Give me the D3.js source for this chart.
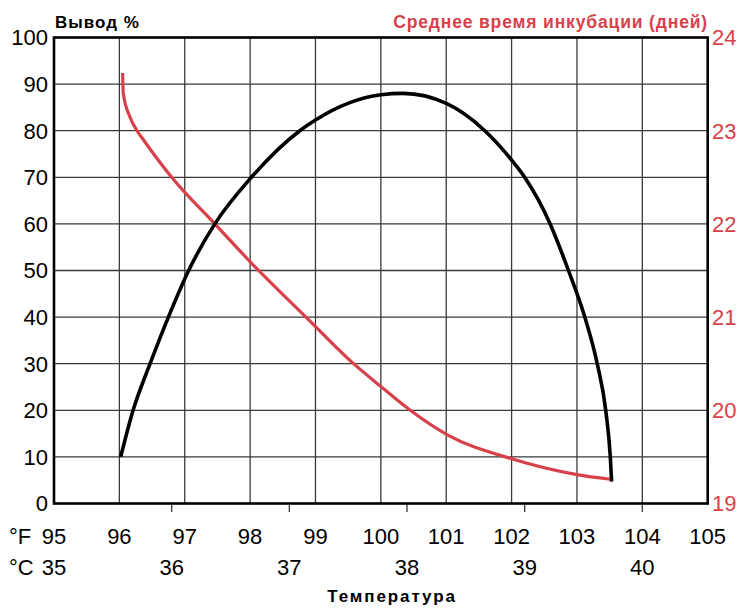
<html>
	<head>
		<meta charset="utf-8">
		<title>Вывод и время инкубации</title>
		<script src="https://cdn.jsdelivr.net/npm/d3@7/dist/d3.min.js" charset="utf-8"></script>
		<style>
			body { margin: 0; background: #fff; }
			text { font-family: "Liberation Sans", Arial, sans-serif; }
		</style>
	</head>
<body>
	<svg id="chart"></svg>
	<script>
		// tick labels
		var fahrenheitTicks = [95, 96, 97, 98, 99, 100, 101, 102, 103, 104, 105];
		var celsiusTicks = [35, 36, 37, 38, 39, 40];
		var hatchTicks = [0, 10, 20, 30, 40, 50, 60, 70, 80, 90, 100];
		var dayTicks = [19, 20, 21, 22, 23, 24];

		// hatch rate (%) against temperature (°F), black curve
		var hatchF =   [96.02, 96.21, 96.47, 96.75, 97.06, 97.46, 98.02, 98.76, 99.0, 100.0, 100.34, 101.01, 101.59, 102.0, 102.2, 102.59, 102.87, 103.12, 103.31, 103.44, 103.51, 103.53];
		var hatchPct = [10,    20,    30,    40,    50,    60,    70,    80,    82.3, 87.7,  88.0,   85.8,   80,     73.7,  70,    60,     50,     40,     30,     20,     10,     4.7];

		// mean incubation time (days) against temperature (°F), red curve
		var incubF =    [96.05, 96.06, 96.16, 96.27, 96.37, 96.8, 97.46, 98.02, 98.87, 99.6,  100.01, 100.45, 101.01, 102.0, 103.0, 103.51];
		var incubDays = [23.62, 23.4,  23.15, 23.0,  22.9,  22.5, 22.0,  21.58, 20.99, 20.49, 20.25,  20.0,   19.74,  19.48, 19.31, 19.26];

		var red = '#d8414a';
		var grid_color = '#3a3a3a';

		var width = 741;
		var height = 608;
		var plotLeft = 54, plotTop = 37.5, plotRight = 707.7, plotBottom = 503.5;

		var svg = d3.select("#chart")
				.attr("width", width)
				.attr("height", height);

		var x = d3.scaleLinear().domain([95, 105]).range([plotLeft, plotRight]);
		var y = d3.scaleLinear().domain([0, 100]).range([plotBottom, plotTop]);
		var yDays = d3.scaleLinear().domain([19, 24]).range([plotBottom, plotTop]);

		// grid
		svg.append("g").selectAll("line")
				.data(fahrenheitTicks.slice(1, -1))
				.enter().append("line")
				.attr("x1", function(d) { return x(d); })
				.attr("x2", function(d) { return x(d); })
				.attr("y1", plotTop)
				.attr("y2", plotBottom)
				.attr("stroke", grid_color)
				.attr("stroke-width", 1.3);

		svg.append("g").selectAll("line")
				.data(hatchTicks.slice(1, -1))
				.enter().append("line")
				.attr("x1", plotLeft)
				.attr("x2", plotRight)
				.attr("y1", function(d) { return y(d); })
				.attr("y2", function(d) { return y(d); })
				.attr("stroke", grid_color)
				.attr("stroke-width", 1.3);

		// celsius ticks under the axis
		svg.append("g").selectAll("line")
				.data(celsiusTicks.slice(1))
				.enter().append("line")
				.attr("x1", function(d) { return x(d * 9 / 5 + 32); })
				.attr("x2", function(d) { return x(d * 9 / 5 + 32); })
				.attr("y1", plotBottom)
				.attr("y2", plotBottom + 8.5)
				.attr("stroke", grid_color)
				.attr("stroke-width", 1.3);

		// frame
		svg.append("rect")
				.attr("x", plotLeft)
				.attr("y", plotTop)
				.attr("width", plotRight - plotLeft)
				.attr("height", plotBottom - plotTop)
				.attr("fill", "none")
				.attr("stroke", "black")
				.attr("stroke-width", 2.6);

		// curves
		var hatchLine = d3.line()
				.x(function(d) { return x(d[0]); })
				.y(function(d) { return y(d[1]); })
				.curve(d3.curveMonotoneX);

		var incubLine = d3.line()
				.x(function(d) { return x(d[0]); })
				.y(function(d) { return yDays(d[1]); })
				.curve(d3.curveMonotoneX);

		svg.append("path")
				.datum(d3.zip(incubF, incubDays))
				.attr("d", incubLine)
				.attr("fill", "none")
				.attr("stroke", red)
				.attr("stroke-width", 3.2);

		svg.append("path")
				.datum(d3.zip(hatchF, hatchPct))
				.attr("d", hatchLine)
				.attr("fill", "none")
				.attr("stroke", "black")
				.attr("stroke-width", 3.6);

		// left axis labels
		svg.append("g").selectAll("text")
				.data(hatchTicks)
				.enter().append("text")
				.attr("x", 48)
				.attr("y", function(d) { return y(d); })
				.attr("dy", "0.36em")
				.attr("text-anchor", "end")
				.style("font-size", "22px")
				.text(function(d) { return d; });

		// right axis labels
		svg.append("g").selectAll("text")
				.data(dayTicks)
				.enter().append("text")
				.attr("x", 712)
				.attr("y", function(d) { return yDays(d); })
				.attr("dy", "0.36em")
				.attr("text-anchor", "start")
				.attr("fill", red)
				.style("font-size", "22px")
				.text(function(d) { return d; });

		// bottom labels
		svg.append("g").selectAll("text")
				.data(fahrenheitTicks)
				.enter().append("text")
				.attr("x", function(d) { return x(d); })
				.attr("y", 544)
				.attr("text-anchor", "middle")
				.style("font-size", "22px")
				.text(function(d) { return d; });

		svg.append("g").selectAll("text")
				.data(celsiusTicks)
				.enter().append("text")
				.attr("x", function(d) { return x(d * 9 / 5 + 32); })
				.attr("y", 575)
				.attr("text-anchor", "middle")
				.style("font-size", "22px")
				.text(function(d) { return d; });

		svg.append("text")
				.attr("x", 9).attr("y", 544)
				.style("font-size", "22px")
				.text("°F");
		svg.append("text")
				.attr("x", 9).attr("y", 575)
				.style("font-size", "22px")
				.text("°C");

		// titles
		svg.append("text")
				.attr("x", 55).attr("y", 28)
				.style("font-size", "17px").style("font-weight", "bold")
				.style("letter-spacing", "1px")
				.text("Вывод %");

		svg.append("text")
				.attr("x", 708).attr("y", 28)
				.attr("text-anchor", "end")
				.attr("fill", red)
				.style("font-size", "17.5px").style("font-weight", "bold")
				.style("letter-spacing", "0.85px")
				.text("Среднее время инкубации (дней)");

		svg.append("text")
				.attr("x", 392).attr("y", 602)
				.attr("text-anchor", "middle")
				.style("font-size", "17px").style("font-weight", "bold")
				.style("letter-spacing", "1.9px")
				.text("Температура");
	</script>
</body>
</html>
